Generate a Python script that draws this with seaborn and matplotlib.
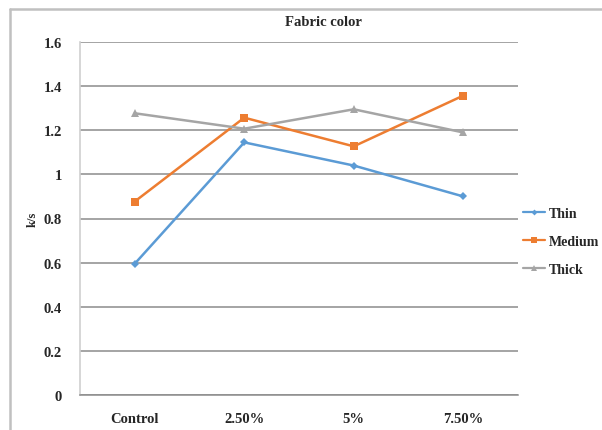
import matplotlib
matplotlib.use("Agg")
import matplotlib.pyplot as plt
import seaborn as sns
import pandas as pd
from matplotlib.lines import Line2D

categories = ["Control", "2.50%", "5%", "7.50%"]
thin = [0.595, 1.145, 1.04, 0.90]
medium = [0.877, 1.257, 1.127, 1.357]
thick = [1.277, 1.207, 1.295, 1.19]
series_names = ["Thin", "Medium", "Thick"]
y_ticks = [0, 0.2, 0.4, 0.6, 0.8, 1, 1.2, 1.4, 1.6]

df = pd.DataFrame({
    "cat": categories * 3,
    "val": thin + medium + thick,
    "series": [s for s in series_names for _ in categories],
})

sns.set_theme(style="white")
plt.rcParams["font.family"] = ["Liberation Serif", "DejaVu Serif"]
plt.rcParams["font.weight"] = "bold"

colors = {"Thin": "#5B9BD5", "Medium": "#ED7D31", "Thick": "#A5A5A5"}
markers = {"Thin": "D", "Medium": "s", "Thick": "^"}
msizes = {"Thin": 4, "Medium": 6, "Thick": 6}

fig = plt.figure(figsize=(6.02, 4.31), dpi=100)
ax = fig.add_axes([80 / 602, 35 / 431, 438 / 602, 353 / 431])

for s in series_names:
    sub = df[df["series"] == s]
    sns.lineplot(data=sub, x="cat", y="val", ax=ax, color=colors[s],
                 marker=markers[s], markersize=msizes[s], markeredgewidth=0,
                 linewidth=1.8, sort=False, legend=False)

ax.set_xlim(-0.5, 3.5)
ax.set_ylim(0, 1.6)
ax.set_yticks(y_ticks)
ax.set_yticklabels([f"{t:g}" for t in y_ticks], fontsize=10.5, fontweight="bold")
ax.set_xticks(range(len(categories)))
ax.set_xticklabels(categories, fontsize=10.5, fontweight="bold")
ax.tick_params(axis="x", pad=12, length=0)
ax.tick_params(axis="y", pad=13, length=0)
ax.set_xlabel("")
ax.set_ylabel("k/s", fontsize=9, fontweight="bold", labelpad=4)
ax.yaxis.set_label_coords(-0.095, 0.5)

ax.grid(axis="y", color="#8c8c8c", linewidth=1.1)
ax.grid(axis="x", visible=False)
for side in ["top", "right"]:
    ax.spines[side].set_visible(False)
ax.spines["left"].set_color("#d0d0d0")
ax.spines["left"].set_linewidth(1.2)
ax.spines["bottom"].set_color("#8c8c8c")
ax.spines["bottom"].set_linewidth(1.1)

handles = [Line2D([0], [0], color=colors[s], marker=markers[s],
                  markersize=msizes[s] - 1, markeredgewidth=0, linewidth=1.6)
           for s in series_names]
leg = fig.legend(handles, series_names, loc="upper left",
                 bbox_to_anchor=(513 / 602, 1 - 198 / 431), frameon=False,
                 handlelength=1.6, handletextpad=0.25, labelspacing=1.1,
                 borderaxespad=0.3,
                 prop={"family": ["Liberation Serif"], "weight": "bold", "size": 10})

fig.text(323 / 602, 1 - 22 / 431, "Fabric color", ha="center", va="center",
         fontsize=10.5, fontweight="bold")

# chart area border (left and top edges visible)
fig.add_artist(Line2D([10 / 602, 10 / 602], [0, 1 - 10 / 431],
                      transform=fig.transFigure, color="#c0c0c0", linewidth=1.8))
fig.add_artist(Line2D([10 / 602, 1], [1 - 10 / 431, 1 - 10 / 431],
                      transform=fig.transFigure, color="#c0c0c0", linewidth=1.8))

fig.savefig("out.png", dpi=100)
